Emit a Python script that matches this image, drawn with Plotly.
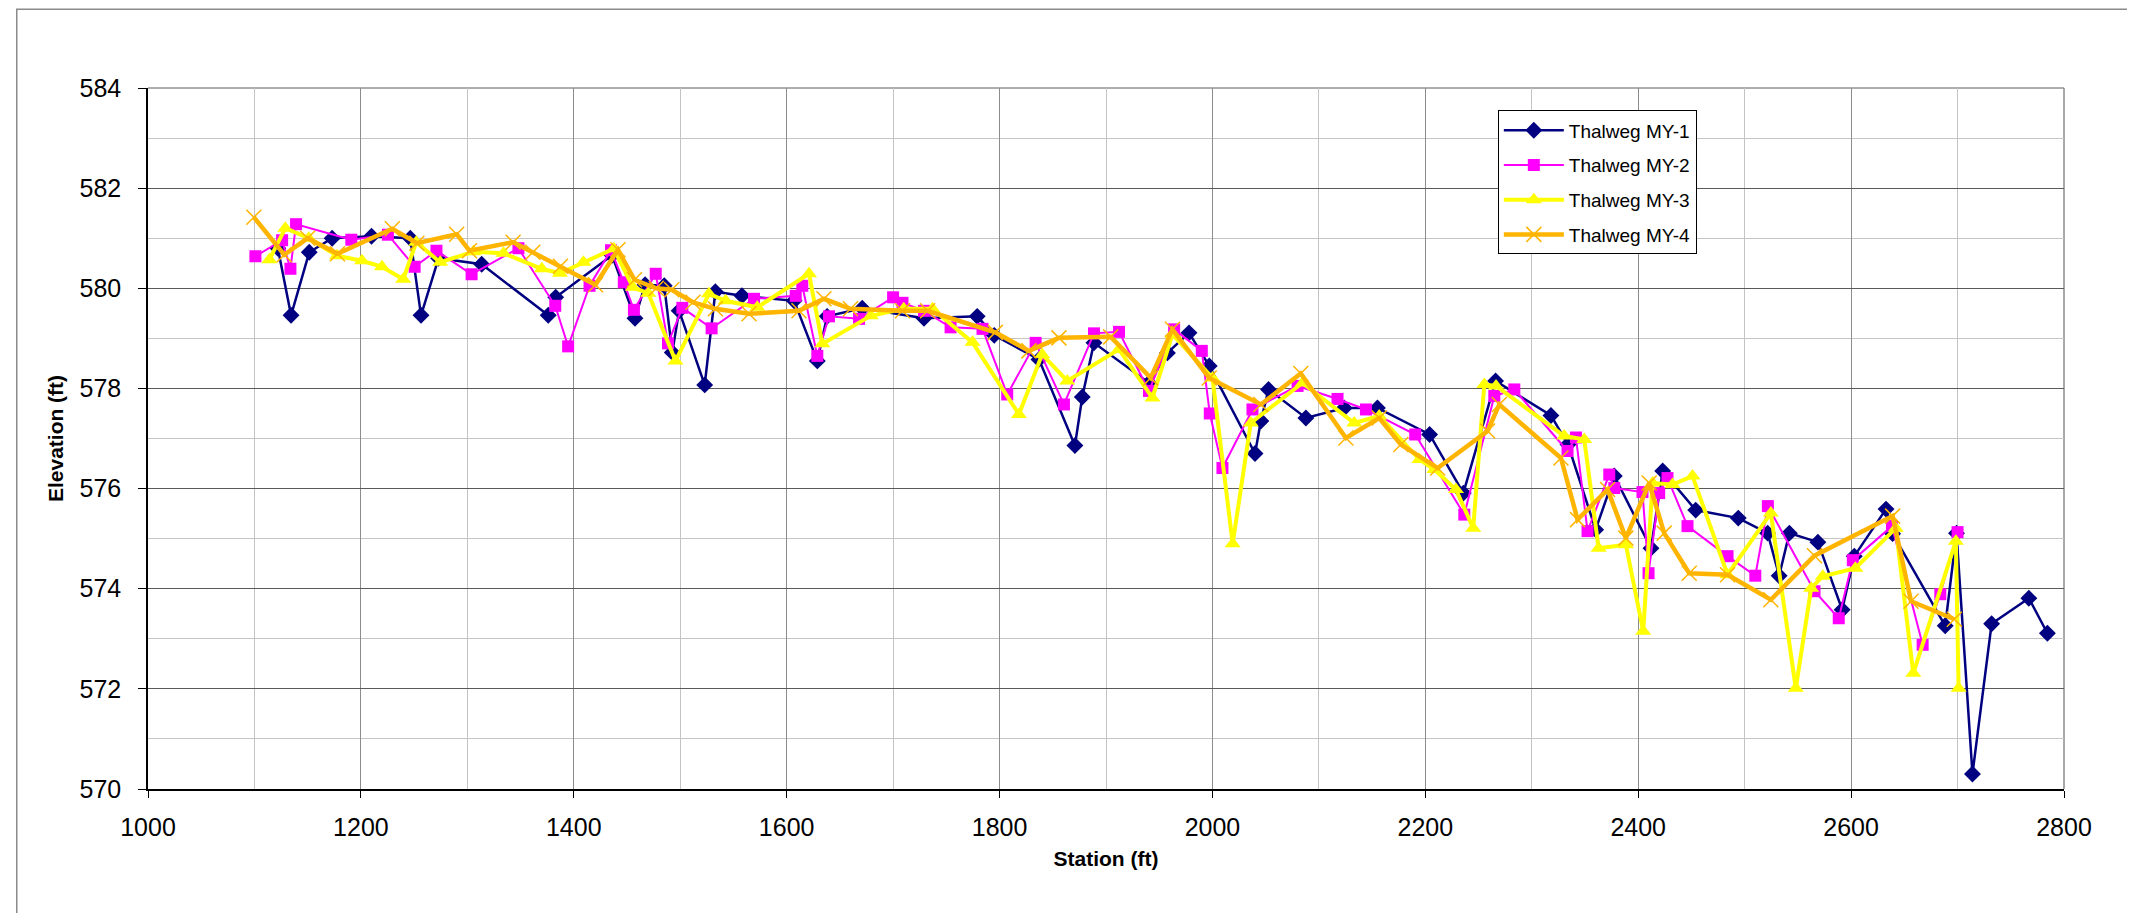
import plotly.graph_objects as go

# ---- data (station ft, elevation ft) ----
my1_x = [1122, 1134.4, 1151.5, 1173, 1210, 1246.4, 1256.5, 1273, 1313.5, 1376, 1383, 1436, 1457.5, 1467, 1485,
         1492.5, 1499, 1523, 1533, 1558, 1607, 1628.8, 1638, 1671, 1729, 1779, 1795, 1837, 1870.8, 1877.7,
         1888.7, 1940.4, 1957.7, 1978, 1997, 2040, 2045.5, 2052.7, 2087.8, 2123.8, 2155, 2204, 2235.7, 2266,
         2318, 2334, 2360, 2377.5, 2412, 2423, 2454, 2494, 2521.6, 2532.4, 2542, 2568.8, 2591.6, 2603, 2632.8,
         2639, 2688.4, 2699, 2714, 2732, 2767, 2784.4]
my1_y = [580.8, 579.46, 580.72, 581.0, 581.04, 581.0, 579.46, 580.6, 580.48, 579.46, 579.82, 580.66, 579.4, 580.07, 580.05,
         578.72, 579.55, 578.07, 579.93, 579.85, 579.75, 578.55, 579.44, 579.6, 579.4, 579.44, 579.06, 578.58, 576.86, 577.83,
         578.91, 578.11, 578.71, 579.11, 578.45, 576.7, 577.35, 577.98, 577.41, 577.61, 577.61, 577.08, 575.91, 578.15,
         577.46, 576.88, 575.18, 576.25, 574.81, 576.35, 575.57, 575.41, 575.11, 574.26, 575.11, 574.93, 573.58, 574.65, 575.59,
         575.1, 573.26, 575.11, 570.3, 573.3, 573.81, 573.11]

my2_x = [1100.9, 1126, 1133.8, 1139.1, 1191, 1225.4, 1250.5, 1271, 1304, 1348, 1382.6, 1394.7, 1414.8, 1435, 1447,
         1456.5, 1477, 1488.5, 1502, 1529.5, 1569.3, 1608.5, 1614.7, 1628.8, 1639.8, 1668, 1700, 1708.8, 1729, 1754,
         1784, 1807.2, 1833.9, 1860.5, 1888.7, 1912.2, 1940.4, 1964, 1990, 1997.5, 2009.4, 2037.6, 2080, 2117.5,
         2144.2, 2190.5, 2236.6, 2264.8, 2283.6, 2333.6, 2341.5, 2352.4, 2372.8, 2377.5, 2404, 2409.7, 2419.7,
         2427.5, 2446.3, 2483.9, 2510, 2521.8, 2565.6, 2588.4, 2601.6, 2638.4, 2667.2, 2683.8, 2700]
my2_y = [580.64, 580.96, 580.39, 581.28, 580.97, 581.07, 580.43, 580.75, 580.28, 580.8, 579.65, 578.84, 580.05, 580.76, 580.12,
         579.57, 580.29, 578.9, 579.61, 579.2, 579.79, 579.85, 580.05, 578.65, 579.44, 579.39, 579.82, 579.71, 579.55, 579.22,
         579.19, 577.88, 578.91, 577.68, 579.1, 579.13, 577.95, 579.18, 578.75, 577.5, 576.41, 577.58, 578.05, 577.79,
         577.58, 577.08, 575.48, 577.85, 577.98, 576.75, 577.02, 575.15, 576.28, 576.01, 575.93, 574.31, 575.91,
         576.21, 575.25, 574.65, 574.26, 575.65, 573.95, 573.41, 574.57, 575.25, 572.88, 573.89, 575.13]

my3_x = [1114, 1129, 1151, 1177.6, 1201, 1219.8, 1239.8, 1252, 1274.5, 1305.7, 1334, 1370, 1387, 1409, 1437.6,
         1455.5, 1470, 1495.6, 1527, 1542.6, 1572.4, 1621, 1633.5, 1679, 1710, 1737, 1774.6, 1818.2, 1840, 1863.6,
         1912.2, 1943.6, 1962.4, 2000, 2019, 2036, 2084.6, 2133.2, 2156.7, 2194.4, 2208.5, 2228.8, 2245, 2255.4,
         2266.4, 2330.5, 2349.3, 2362.8, 2388.4, 2404.7, 2413.5, 2432.2, 2451, 2483.9, 2524.6, 2548, 2562.5,
         2573.4, 2604, 2642, 2658.4, 2698.4, 2701]
my3_y = [580.57, 581.2, 581.0, 580.65, 580.55, 580.43, 580.18, 580.92, 580.52, 580.73, 580.7, 580.39, 580.3, 580.52, 580.79,
         580.02, 579.9, 578.55, 579.89, 579.75, 579.62, 580.29, 578.89, 579.45, 579.59, 579.59, 578.92, 577.48, 578.68, 578.15,
         578.78, 577.81, 579.08, 578.21, 574.9, 577.31, 578.11, 577.31, 577.45, 576.58, 576.38, 575.98, 575.21, 578.08,
         578.05, 577.05, 576.98, 574.81, 574.88, 573.15, 576.11, 576.08, 576.25, 574.28, 575.51, 572.01, 574.01,
         574.25, 574.41, 575.21, 572.31, 574.95, 572.01]

my4_x = [1099.4, 1128, 1150, 1178, 1229.5, 1252.6, 1290, 1302, 1343, 1361.5, 1387.5, 1420.4, 1441.5, 1457, 1477.5,
         1492, 1512, 1533, 1564.6, 1611.6, 1635, 1660, 1708.8, 1732.4, 1796, 1827.6, 1855.8, 1904.4, 1942, 1962.4,
         1997, 2045.5, 2083, 2125.4, 2156.7, 2177, 2211.6, 2258.5, 2269.5, 2327.4, 2343, 2371.2, 2388.4, 2410.3,
         2424.4, 2447.9, 2483.9, 2524.6, 2565.6, 2639, 2656.3, 2697]
my4_y = [581.42, 580.67, 581.0, 580.69, 581.19, 580.9, 581.08, 580.75, 580.92, 580.72, 580.44, 580.07, 580.77, 580.17, 580.0,
         579.97, 579.72, 579.59, 579.49, 579.55, 579.79, 579.59, 579.55, 579.55, 579.12, 578.75, 579.01, 579.03, 578.21, 579.18,
         578.21, 577.68, 578.3, 577.01, 577.41, 576.88, 576.41, 577.15, 577.68, 576.61, 575.38, 575.98, 575.01, 576.11,
         575.11, 574.31, 574.28, 573.78, 574.66, 575.45, 573.75, 573.39]

series_names = ["Thalweg MY-1", "Thalweg MY-2", "Thalweg MY-3", "Thalweg MY-4"]

x_ticks = [1000, 1200, 1400, 1600, 1800, 2000, 2200, 2400, 2600, 2800]
y_ticks = [570, 572, 574, 576, 578, 580, 582, 584]

FONT = "Liberation Sans, Arial, sans-serif"

fig = go.Figure()
fig.add_trace(go.Scatter(x=my1_x, y=my1_y, name=series_names[0], mode="lines+markers",
                         line=dict(color="#000080", width=2.5),
                         marker=dict(symbol="diamond", size=13, color="#000080"),
                         legendgroup="a"))
fig.add_trace(go.Scatter(x=my2_x, y=my2_y, name=series_names[1], mode="lines+markers",
                         line=dict(color="#FF00FF", width=2),
                         marker=dict(symbol="square", size=12, color="#FF00FF"),
                         legendgroup="b"))
fig.add_trace(go.Scatter(x=my3_x, y=my3_y, name=series_names[2], mode="lines+markers",
                         line=dict(color="#FFFF00", width=4),
                         marker=dict(symbol="triangle-up", size=14, color="#FFFF00"),
                         legendgroup="c"))
fig.add_trace(go.Scatter(x=my4_x, y=my4_y, name=series_names[3], mode="lines+markers",
                         line=dict(color="#FFB400", width=4.5),
                         marker=dict(symbol="x-thin-open", size=15, color="#FFB400",
                                     line=dict(color="#FFB400", width=1.5)),
                         legendgroup="d"))

fig.update_layout(
    width=2127, height=905,
    margin=dict(l=140, r=71, t=80, b=124),
    paper_bgcolor="white", plot_bgcolor="white",
    font=dict(family=FONT, color="black"),
    showlegend=True,
    legend=dict(x=0.7045, y=0.968, xanchor="left", yanchor="top",
                bgcolor="white", bordercolor="black", borderwidth=1,
                font=dict(size=19, family=FONT), tracegroupgap=7, itemwidth=60),
    xaxis=dict(range=[1000, 2800], tickvals=x_ticks, ticktext=[str(v) for v in x_ticks],
               automargin=False,
               showgrid=True, gridcolor="#8c8c8c", gridwidth=1,
               minor=dict(dtick=100, tick0=1000, showgrid=True, gridcolor="#c4c4c4", gridwidth=1, ticks=""),
               showline=True, linecolor="black", linewidth=1.5,
               ticks="outside", ticklen=7, tickcolor="black", tickwidth=1,
               ticklabelstandoff=8,
               tickfont=dict(size=25, family=FONT),
               title=dict(text="<b>Station (ft)</b>", font=dict(size=21, family=FONT), standoff=12),
               zeroline=False),
    yaxis=dict(range=[570, 584], tickvals=y_ticks, ticktext=[str(v) for v in y_ticks],
               automargin=False,
               showgrid=True, gridcolor="#5a5a5a", gridwidth=1,
               minor=dict(dtick=1, tick0=570, showgrid=True, gridcolor="#c4c4c4", gridwidth=1, ticks=""),
               showline=True, linecolor="black", linewidth=1.5,
               ticks="outside", ticklen=8, tickcolor="black", tickwidth=1,
               ticklabelstandoff=12,
               tickfont=dict(size=25, family=FONT),
               title=dict(text="<b>Elevation (ft)</b>", font=dict(size=21, family=FONT), standoff=10),
               zeroline=False),
    shapes=[
        dict(type="rect", xref="paper", yref="paper", x0=-0.0685, x1=1.0344, y0=-0.3, y1=1.1125,
             line=dict(color="#8a8a8a", width=1.5), fillcolor="rgba(0,0,0,0)", layer="below"),
        dict(type="line", xref="paper", yref="paper", x0=0, x1=1, y0=1, y1=1,
             line=dict(color="#5a5a5a", width=1), layer="below"),
        dict(type="line", xref="paper", yref="paper", x0=1, x1=1, y0=0, y1=1,
             line=dict(color="#8c8c8c", width=1.5), layer="below"),
    ],
)

fig.write_html("out.html")
